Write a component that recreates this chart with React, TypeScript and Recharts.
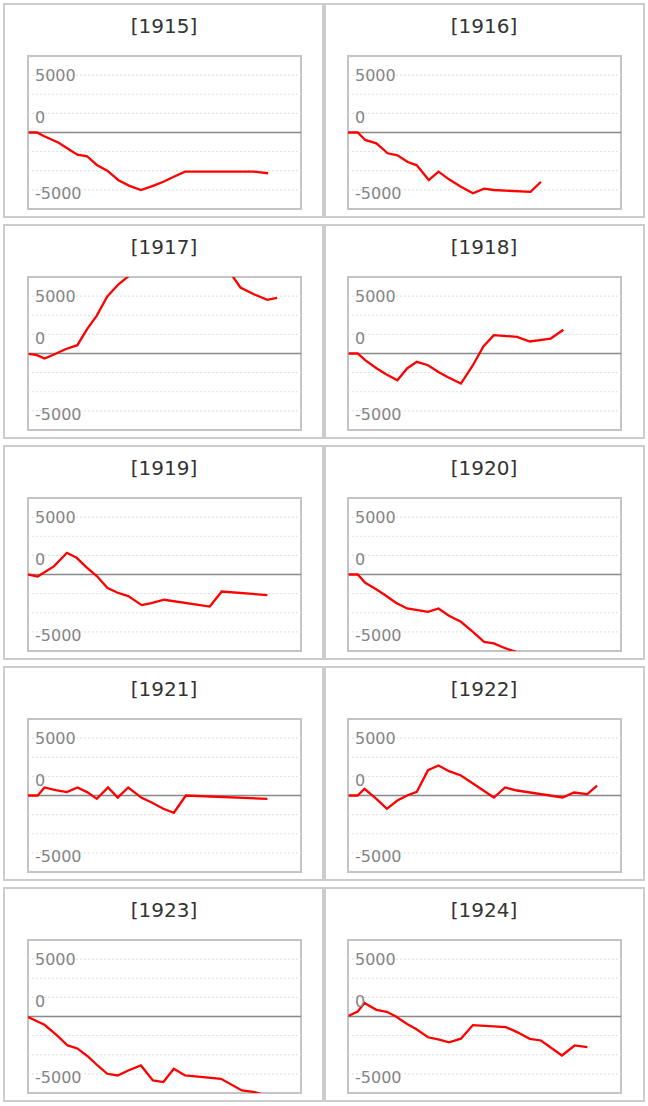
import React from 'react';
import { LineChart, Line, XAxis, YAxis, ReferenceLine } from 'recharts';

// one panel per year, x = day of year, y = running balance
const YEARS = ['1915', '1916', '1917', '1918', '1919', '1920', '1921', '1922', '1923', '1924'];

const DAYS_1915 = [1, 12, 21, 41, 54, 66, 79, 92, 106, 121, 135, 151, 168, 181, 195, 210, 302, 321];
const VALUES_1915 = [0, 0, -300, -890, -1440, -1930, -2070, -2830, -3330, -4160, -4630, -5010, -4630, -4290, -3850, -3410, -3410, -3550];

const DAYS_1916 = [0, 13, 23, 38, 53, 66, 80, 92, 108, 121, 135, 151, 167, 182, 195, 244, 258];
const VALUES_1916 = [0, 0, -650, -940, -1810, -1990, -2570, -2860, -4140, -3410, -4080, -4720, -5300, -4900, -5010, -5180, -4290];

const DAYS_1917 = [1, 12, 22, 34, 50, 66, 79, 92, 106, 121, 147, 180, 214, 254, 284, 302, 320, 333];
const VALUES_1917 = [-30, -150, -435, -115, 375, 725, 2130, 3300, 4980, 6030, 7400, 8300, 8800, 8600, 5750, 5165, 4680, 4850];

const DAYS_1918 = [1, 13, 23, 38, 51, 66, 79, 92, 107, 122, 135, 151, 167, 181, 195, 226, 243, 271, 288];
const VALUES_1918 = [0, 0, -585, -1280, -1800, -2325, -1305, -725, -1020, -1655, -2115, -2615, -1020, 610, 1595, 1455, 1045, 1305, 2065];

const DAYS_1919 = [0, 13, 35, 52, 65, 79, 92, 106, 119, 134, 152, 165, 182, 243, 259, 320];
const VALUES_1919 = [0, -175, 730, 1890, 1455, 585, -140, -1160, -1570, -1880, -2670, -2490, -2200, -2790, -1480, -1795];

const DAYS_1920 = [1, 13, 23, 36, 49, 64, 79, 93, 107, 121, 135, 151, 167, 182, 195, 211, 246, 293, 326];
const VALUES_1920 = [0, 0, -725, -1220, -1760, -2465, -2960, -3100, -3250, -2960, -3600, -4120, -4995, -5870, -6010, -6445, -7200, -7800, -8000];

const DAYS_1921 = [0, 13, 22, 37, 52, 66, 79, 92, 107, 120, 134, 152, 166, 181, 195, 211, 320];
const VALUES_1921 = [0, 0, 700, 470, 295, 700, 295, -290, 700, -175, 700, -200, -635, -1160, -1505, 0, -290];

const DAYS_1922 = [1, 13, 22, 38, 52, 66, 79, 92, 107, 121, 135, 151, 167, 181, 195, 210, 226, 287, 302, 320, 333];
const VALUES_1922 = [0, 0, 585, -290, -1160, -435, 0, 320, 2210, 2610, 2120, 1745, 1045, 435, -175, 700, 435, -175, 260, 120, 870];

const DAYS_1923 = [0, 22, 38, 53, 66, 80, 93, 106, 120, 134, 151, 167, 181, 195, 210, 258, 286, 301, 320];
const VALUES_1923 = [-50, -725, -1595, -2525, -2785, -3485, -4270, -4990, -5140, -4705, -4270, -5575, -5715, -4555, -5140, -5425, -6445, -6560, -6900];

const DAYS_1924 = [1, 13, 22, 38, 52, 64, 79, 91, 107, 122, 135, 151, 167, 211, 226, 243, 258, 286, 303, 320];
const VALUES_1924 = [60, 435, 1170, 585, 410, 0, -655, -1090, -1810, -2020, -2245, -1935, -750, -925, -1360, -1945, -2090, -3400, -2525, -2665];

const SERIES: Record<string, [number[], number[]]> = {
  '1915': [DAYS_1915, VALUES_1915],
  '1916': [DAYS_1916, VALUES_1916],
  '1917': [DAYS_1917, VALUES_1917],
  '1918': [DAYS_1918, VALUES_1918],
  '1919': [DAYS_1919, VALUES_1919],
  '1920': [DAYS_1920, VALUES_1920],
  '1921': [DAYS_1921, VALUES_1921],
  '1922': [DAYS_1922, VALUES_1922],
  '1923': [DAYS_1923, VALUES_1923],
  '1924': [DAYS_1924, VALUES_1924],
};

const Y_TICKS = [-5000, 0, 5000];
const Y_LIMIT = 20000 / 3;
const GRID_STEP = Y_LIMIT / 4;
const GRID_LINES = [-3, -2, -1, 1, 2, 3].map((k) => k * GRID_STEP);

const FONT = '"DejaVu Sans", Verdana, sans-serif';
const PLOT_W = 273;
const PLOT_H = 153;

function YTick(props: any) {
  const { y, payload } = props;
  // labels in the original sit a little off their lines; the "0" one a full step up
  const nudge = payload.value === 0 ? -15.8 : payload.value < 0 ? 2.9 : 0.4;
  return (
    <text x={7} y={y + nudge + 5.8} fill="#858585" fontSize={16} fontFamily={FONT} textAnchor="start">
      {payload.value}
    </text>
  );
}

function YearPanel({ year, index }: { year: string; index: number }) {
  const col = index % 2;
  const row = Math.floor(index / 2);
  const [days, values] = SERIES[year];
  const data = days.map((d, i) => ({ day: d, value: values[i] }));

  const panelLeft = 3 + 321 * col;
  const panelTop = 3 + 221 * row;
  const plotLeft = 27.5 + 320 * col;
  const plotTop = 56 + 221 * row;

  return (
    <>
      <div
        style={{
          position: 'absolute', left: panelLeft, top: panelTop, width: 321, height: 215,
          border: '2px solid #cccccc', boxSizing: 'border-box',
        }}
      />
      <div
        style={{
          position: 'absolute', left: plotLeft, top: plotTop - 42, width: PLOT_W,
          textAlign: 'center', fontFamily: FONT, fontSize: 20, lineHeight: '24px', color: '#333',
        }}
      >
        [{year}]
      </div>
      <div
        style={{
          position: 'absolute', left: plotLeft - 1, top: plotTop - 1, width: PLOT_W + 2, height: PLOT_H + 2,
          border: '2px solid #c4c4c4', boxSizing: 'border-box',
        }}
      />
      <div style={{ position: 'absolute', left: plotLeft, top: plotTop }}>
        <LineChart width={PLOT_W} height={PLOT_H} data={data} margin={{ top: 0, right: 0, bottom: 0, left: 0 }}>
          <XAxis dataKey="day" type="number" domain={[0, 365]} hide />
          <YAxis
            type="number"
            domain={[-Y_LIMIT, Y_LIMIT]}
            allowDataOverflow
            ticks={Y_TICKS}
            interval={0}
            mirror
            axisLine={false}
            tickLine={false}
            tick={<YTick />}
          />
          {GRID_LINES.map((g) => (
            <ReferenceLine key={g} y={g} stroke="#dddddd" strokeDasharray="2 2" />
          ))}
          <ReferenceLine y={0} stroke="#888888" strokeWidth={1.5} />
          <Line
            dataKey="value"
            stroke="#ff0000"
            strokeWidth={2.3}
            dot={false}
            activeDot={false}
            isAnimationActive={false}
          />
        </LineChart>
      </div>
    </>
  );
}

export default function App() {
  return (
    <div style={{ position: 'absolute', left: 0, top: 0, width: 648, height: 1106, background: '#fff', fontFamily: FONT }}>
      {YEARS.map((y, i) => (
        <YearPanel key={y} year={y} index={i} />
      ))}
    </div>
  );
}
